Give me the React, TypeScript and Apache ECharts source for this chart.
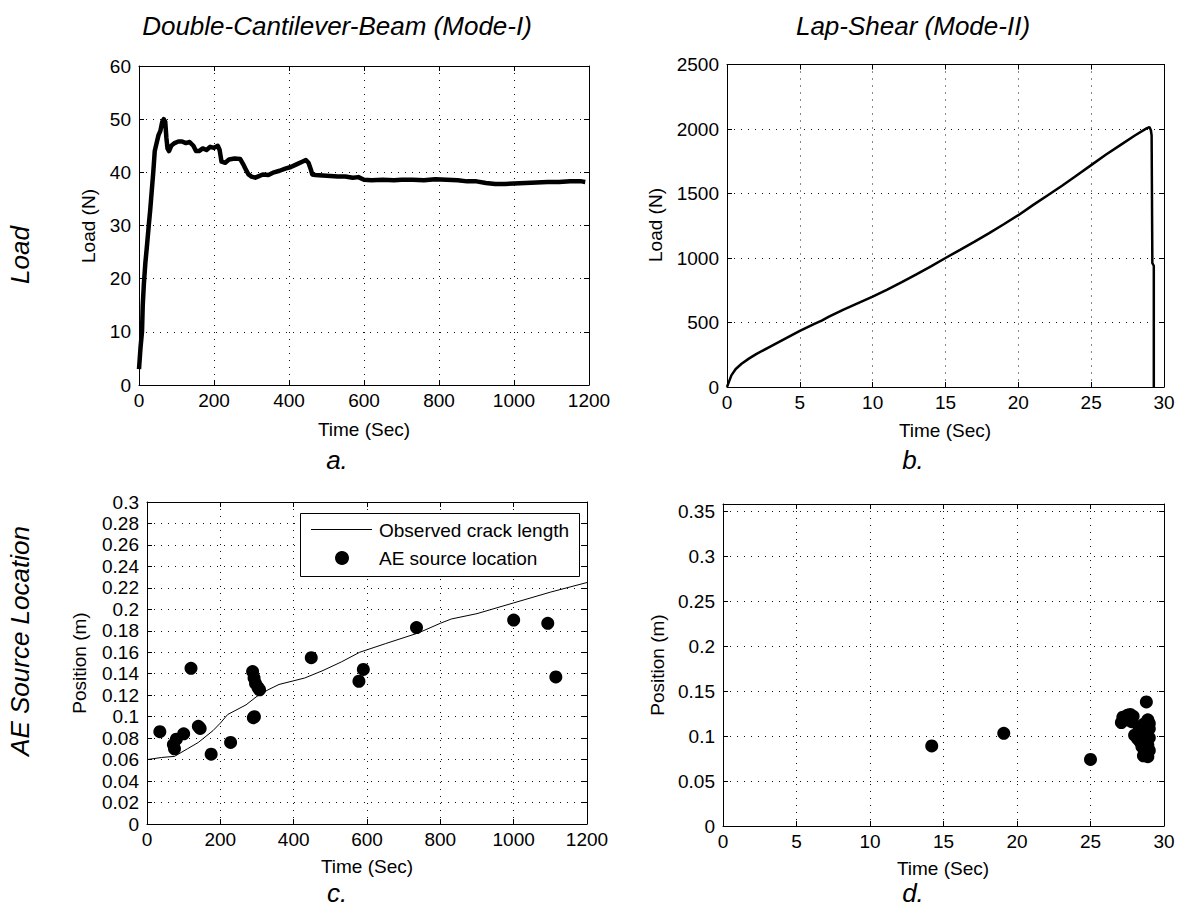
import React, { useEffect, useRef } from "react";
import * as echarts from "echarts";

const FONT = "'Liberation Sans', Arial, Helvetica, sans-serif";

// Panel a: DCB load vs time
const loadDCB: [number, number][] = [
  [0, 3], [4, 7], [8, 10], [10, 15], [13, 19], [17, 23], [21, 26], [26, 30], [30, 33], [34, 36.5],
  [38, 40], [42, 44], [47, 45.5], [52, 47], [57, 47.8], [62, 49.5], [66, 50], [70, 49.5], [73, 46.5],
  [76, 44.5], [80, 44], [86, 45], [95, 45.5], [105, 45.8], [115, 45.8], [125, 45.5], [135, 45.7],
  [145, 45], [152, 44], [160, 44], [170, 44.5], [180, 44.2], [190, 44.8], [200, 44.6], [210, 45],
  [215, 44.2], [220, 42], [230, 41.8], [240, 42.4], [255, 42.6], [270, 42.5], [278, 41.5], [285, 40.5],
  [292, 39.6], [300, 39.2], [310, 39], [320, 39.3], [330, 39.6], [345, 39.5], [360, 40], [375, 40.3],
  [390, 40.7], [405, 41], [420, 41.5], [435, 42], [445, 42.3], [452, 41.8], [458, 40.6], [462, 39.6],
  [470, 39.5], [490, 39.4], [510, 39.3], [530, 39.2], [550, 39.2], [570, 39], [585, 39.1], [600, 38.6],
  [620, 38.5], [650, 38.6], [680, 38.5], [700, 38.6], [730, 38.6], [760, 38.5], [790, 38.7], [820, 38.6],
  [850, 38.5], [875, 38.3], [900, 38.3], [925, 38], [950, 37.8], [975, 37.8], [1000, 37.9], [1030, 38],
  [1060, 38.1], [1090, 38.2], [1120, 38.2], [1150, 38.3], [1180, 38.3], [1190, 38.2],
];

// Panel b: lap-shear load vs time
const loadLS: [number, number][] = [
  [0, 0], [0.1, 30], [0.3, 90], [0.6, 140], [1, 180], [1.5, 220], [2, 255], [3, 315], [4, 375],
  [5, 435], [6, 490], [6.5, 515], [7, 545], [8, 600], [9, 650], [10, 700], [11, 755], [12, 813],
  [13, 873], [14, 935], [15, 1000], [16, 1063], [17, 1127], [18, 1193], [19, 1262], [20, 1332],
  [21, 1410], [22, 1485], [23, 1560], [24, 1640], [25, 1720], [26, 1800], [27, 1875], [28, 1950],
  [28.8, 2005], [29, 2015], [29.1, 1990], [29.15, 1950], [29.2, 960], [29.3, 940], [29.3, 0],
];

// Panel c: observed crack length and AE source locations (DCB)
const crackLength: [number, number][] = [
  [0, 0.06], [40, 0.062], [75, 0.063], [110, 0.07], [140, 0.076], [180, 0.087], [200, 0.094],
  [220, 0.102], [270, 0.111], [300, 0.119], [330, 0.125], [360, 0.13], [430, 0.136], [480, 0.143],
  [530, 0.151], [580, 0.16], [650, 0.168], [740, 0.178], [800, 0.187], [830, 0.191], [900, 0.196],
  [960, 0.202], [1000, 0.206], [1100, 0.216], [1200, 0.225],
];
const aeDCB: [number, number][] = [
  [35, 0.086], [72, 0.074], [75, 0.07], [80, 0.079], [100, 0.084], [120, 0.145], [140, 0.091],
  [145, 0.089], [175, 0.065], [228, 0.076], [288, 0.142], [292, 0.136], [296, 0.131], [303, 0.127],
  [307, 0.125], [290, 0.099], [293, 0.1], [448, 0.155], [578, 0.133], [590, 0.144], [735, 0.183],
  [1000, 0.19], [1093, 0.187], [1115, 0.137],
];

// Panel d: AE source locations (lap-shear)
const aeLS: [number, number][] = [
  [14.2, 0.089], [19.1, 0.103], [25.0, 0.074],
  [27.1, 0.115], [27.2, 0.121], [27.4, 0.118], [27.5, 0.123], [27.7, 0.124], [27.9, 0.122],
  [27.8, 0.116], [28.0, 0.101], [28.2, 0.097], [28.3, 0.11], [28.4, 0.093], [28.5, 0.1],
  [28.5, 0.088], [28.6, 0.113], [28.7, 0.095], [28.7, 0.083], [28.8, 0.138], [28.8, 0.105],
  [28.9, 0.118], [28.9, 0.09], [28.9, 0.077], [29.0, 0.108], [29.0, 0.098], [29.0, 0.084],
  [29.0, 0.114], [28.6, 0.078],
];

// axis ranges: [min, max, interval]
const xRangeA = [0, 1200, 200];
const yRangeA = [0, 60, 10];
const xRangeB = [0, 30, 5];
const yRangeB = [0, 2500, 500];
const xRangeC = [0, 1200, 200];
const yRangeC = [0, 0.3, 0.02];
const xRangeD = [0, 30, 5];
const yRangeD = [0, 0.358, 0.05];

const legendNames = ["Observed crack length", "AE source location"];

const grids = [
  { left: 139, top: 66, width: 450, height: 319 },
  { left: 727, top: 64.5, width: 437, height: 322.5 },
  { left: 147, top: 502, width: 440, height: 322 },
  { left: 723, top: 504, width: 441, height: 322 },
];

const fmt = (v: number) => String(+Number(v).toFixed(4));

function axisPair(kind: "x" | "y", gridIndex: number, r: number[], hideMax = false) {
  const base = (primary: boolean) => ({
    type: "value",
    gridIndex,
    min: r[0],
    max: r[1],
    interval: r[2],
    position: kind === "x" ? (primary ? "bottom" : "top") : primary ? "left" : "right",
    axisLine: { show: true, onZero: false, lineStyle: { color: "#000", width: 1 } },
    axisTick: { show: true, inside: true, length: 5, lineStyle: { color: "#000", width: 1 } },
    axisLabel: {
      show: primary,
      color: "#000",
      fontFamily: FONT,
      fontSize: 19,
      margin: kind === "x" ? 6 : 8,
      showMaxLabel: hideMax ? false : true,
      showMinLabel: true,
      formatter: fmt,
    },
    splitLine: { show: primary, lineStyle: { color: "#111", type: [1, 6], width: 1 } },
  });
  return [base(true), base(false)];
}

function txt(text: string, x: number, y: number, size: number, italic = false, rotate = false, align = "center") {
  return {
    type: "text",
    x,
    y,
    z: 100,
    rotation: rotate ? Math.PI / 2 : 0,
    style: {
      text,
      fill: "#000",
      fontSize: size,
      fontFamily: FONT,
      fontStyle: italic ? "italic" : "normal",
      align,
      verticalAlign: "middle",
      textAlign: align,
      textVerticalAlign: "middle",
    },
  };
}

export default function App() {
  const ref = useRef<HTMLDivElement>(null);
  useEffect(() => {
    document.body.style.margin = "0";
    if (!ref.current) return;
    const chart = echarts.init(ref.current, null, { renderer: "svg" });
    const option: any = {
      animation: false,
      backgroundColor: "#fff",
      grid: grids.map((g) => ({ ...g, containLabel: false })),
      xAxis: [
        ...axisPair("x", 0, xRangeA),
        ...axisPair("x", 1, xRangeB),
        ...axisPair("x", 2, xRangeC),
        ...axisPair("x", 3, xRangeD),
      ],
      yAxis: [
        ...axisPair("y", 0, yRangeA),
        ...axisPair("y", 1, yRangeB),
        ...axisPair("y", 2, yRangeC),
        ...axisPair("y", 3, yRangeD, true),
      ],
      series: [
        {
          type: "line",
          xAxisIndex: 0,
          yAxisIndex: 0,
          data: loadDCB,
          symbol: "none",
          lineStyle: { color: "#000", width: 4.5, join: "round" },
        },
        {
          type: "line",
          xAxisIndex: 2,
          yAxisIndex: 2,
          data: loadLS,
          symbol: "none",
          lineStyle: { color: "#000", width: 2.5 },
        },
        {
          type: "line",
          name: legendNames[0],
          xAxisIndex: 4,
          yAxisIndex: 4,
          data: crackLength,
          symbol: "none",
          lineStyle: { color: "#000", width: 1 },
          itemStyle: { color: "#000" },
        },
        {
          type: "scatter",
          name: legendNames[1],
          xAxisIndex: 4,
          yAxisIndex: 4,
          data: aeDCB,
          symbol: "circle",
          symbolSize: 13,
          itemStyle: { color: "#000", opacity: 1 },
        },
        {
          type: "scatter",
          xAxisIndex: 6,
          yAxisIndex: 6,
          data: aeLS,
          symbol: "circle",
          symbolSize: 13,
          itemStyle: { color: "#000", opacity: 1 },
        },
      ],
      graphic: [
        // legend box for panel c
        {
          type: "rect",
          z: 90,
          shape: { x: 300.5, y: 513.5, width: 279, height: 63 },
          style: { fill: "#fff", stroke: "#000", lineWidth: 1 },
        },
        {
          type: "line",
          z: 95,
          shape: { x1: 311, y1: 529.5, x2: 372, y2: 529.5 },
          style: { stroke: "#000", lineWidth: 1 },
        },
        {
          type: "circle",
          z: 95,
          shape: { cx: 342, cy: 558, r: 7 },
          style: { fill: "#000" },
        },
        txt(legendNames[0], 379, 530, 19, false, false, "left"),
        txt(legendNames[1], 379, 558, 19, false, false, "left"),
        // titles and labels
        txt("Double-Cantilever-Beam (Mode-I)", 337, 26, 26, true),
        txt("Lap-Shear (Mode-II)", 913, 26, 26, true),
        txt("Load", 20, 255, 26, true, true),
        txt("AE Source Location", 20, 641, 26, true, true),
        txt("Load (N)", 88, 226, 19, false, true),
        txt("Load (N)", 655, 225, 19, false, true),
        txt("Position (m)", 79, 663, 19, false, true),
        txt("Position (m)", 657, 665, 19, false, true),
        txt("Time (Sec)", 364, 429, 19),
        txt("Time (Sec)", 945, 430, 19),
        txt("Time (Sec)", 367, 866, 19),
        txt("Time (Sec)", 943, 868, 19),
        txt("a.", 337, 460, 26, true),
        txt("b.", 913, 460, 26, true),
        txt("c.", 337, 893, 26, true),
        txt("d.", 913, 893, 26, true),
      ],
    };
    chart.setOption(option);
    return () => chart.dispose();
  }, []);
  return <div ref={ref} style={{ width: 1179, height: 909 }} />;
}
